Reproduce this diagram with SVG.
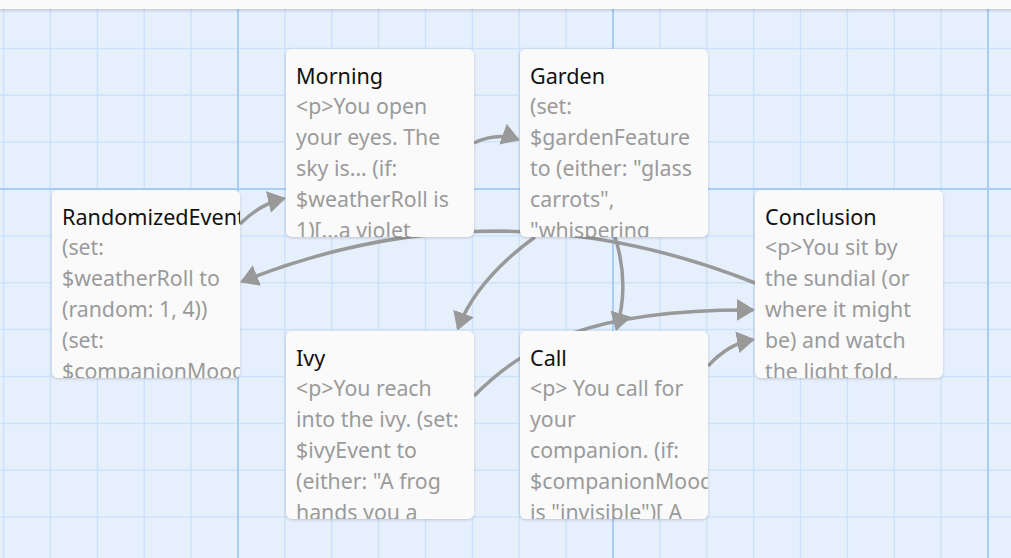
<svg xmlns="http://www.w3.org/2000/svg" width="1011" height="558" viewBox="0 0 1011 558">
  <defs>
    <style>
      .minor { stroke: #cde2fa; stroke-width: 1.5; fill: none; }
      .major { stroke: #a9cdf6; stroke-width: 2; fill: none; }
      .card { fill: #fafafa; filter: url(#shadow); }
      .title { font-family: "Noto Sans", "Open Sans", sans-serif; font-size: 21.6px; fill: #111; }
      .body { font-family: "Noto Sans", "Open Sans", sans-serif; font-size: 21.3px; fill: #9a9a9a; }
      .link { fill: none; stroke: #999; stroke-width: 3.5; marker-end: url(#arrow); }
    </style>
    <filter id="shadow" x="-10%" y="-10%" width="120%" height="120%">
      <feDropShadow dx="0" dy="1" stdDeviation="1.5" flood-color="#000" flood-opacity="0.18"/>
    </filter>
    <marker id="arrow" markerUnits="userSpaceOnUse" markerWidth="18" markerHeight="22" viewBox="0 0 18 22" refX="16" refY="11" orient="auto">
      <path d="M0,0 L18,11 L0,22 z" fill="#999"/>
    </marker>
    <clipPath id="cardClip">
      <rect x="0" y="0" width="188" height="188" rx="6"/>
    </clipPath>
    <linearGradient id="barShadow" x1="0" y1="0" x2="0" y2="1">
      <stop offset="0" stop-color="#000" stop-opacity="0.14"/>
      <stop offset="1" stop-color="#000" stop-opacity="0"/>
    </linearGradient>
  </defs>

  <rect id="background" x="0" y="0" width="1011" height="558" fill="#e6f0fc"/>

  <g id="grid">
    <path class="minor" d="M3.6,0V558 M50.5,0V558 M97.4,0V558 M144.25,0V558 M191.1,0V558 M284.9,0V558 M331.75,0V558 M378.6,0V558 M425.5,0V558 M472.4,0V558 M519.25,0V558 M566.1,0V558 M659.9,0V558 M706.75,0V558 M753.6,0V558 M800.5,0V558 M847.4,0V558 M894.25,0V558 M941.1,0V558 M0,48.4H1011 M0,95.25H1011 M0,142.1H1011 M0,235.9H1011 M0,282.75H1011 M0,329.6H1011 M0,376.5H1011 M0,423.4H1011 M0,470.25H1011 M0,517.1H1011"/>
    <path class="major" d="M238,0V558 M613,0V558 M988,0V558 M0,189H1011"/>
  </g>

  <g id="connectors">
    <path class="link" d="M240,224 Q260,204 284,198.5"/>
    <path class="link" d="M474,143 Q497,132 518,139.5"/>
    <path class="link" d="M755,283 Q497,180 242,281.5"/>
    <path class="link" d="M535,237 Q476,280 458,328.5"/>
    <path class="link" d="M615,237 Q630,284 616.5,329"/>
    <path class="link" d="M474,396 C525,345 590,309 753,310"/>
    <path class="link" d="M708,366 Q728,344 753,339.5"/>
  </g>

  <g id="node-morning" transform="translate(286,49)">
    <rect class="card" width="188" height="188" rx="6"/>
    <g clip-path="url(#cardClip)">
      <text class="title" x="10" y="34.5">Morning</text>
      <text class="body"><tspan x="10" y="65">&lt;p&gt;You open</tspan><tspan x="10" y="96">your eyes. The</tspan><tspan x="10" y="127">sky is... (if:</tspan><tspan x="10" y="158">$weatherRoll is</tspan><tspan x="10" y="189">1)[...a violet</tspan></text>
    </g>
  </g>

  <g id="node-garden" transform="translate(520,49)">
    <rect class="card" width="188" height="188" rx="6"/>
    <g clip-path="url(#cardClip)">
      <text class="title" x="10" y="34.5">Garden</text>
      <text class="body"><tspan x="10" y="65">(set:</tspan><tspan x="10" y="96">$gardenFeature</tspan><tspan x="10" y="127">to (either: "glass</tspan><tspan x="10" y="158">carrots",</tspan><tspan x="10" y="189">"whispering</tspan></text>
    </g>
  </g>

  <g id="node-randomizedevent" transform="translate(52,190)">
    <rect class="card" width="188" height="188" rx="6"/>
    <g clip-path="url(#cardClip)">
      <text class="title" x="10" y="34.5">RandomizedEvent</text>
      <text class="body"><tspan x="10" y="65">(set:</tspan><tspan x="10" y="96">$weatherRoll to</tspan><tspan x="10" y="127">(random: 1, 4))</tspan><tspan x="10" y="158">(set:</tspan><tspan x="10" y="189">$companionMood</tspan></text>
    </g>
  </g>

  <g id="node-conclusion" transform="translate(755,190)">
    <rect class="card" width="188" height="188" rx="6"/>
    <g clip-path="url(#cardClip)">
      <text class="title" x="10" y="34.5">Conclusion</text>
      <text class="body"><tspan x="10" y="65">&lt;p&gt;You sit by</tspan><tspan x="10" y="96">the sundial (or</tspan><tspan x="10" y="127">where it might</tspan><tspan x="10" y="158">be) and watch</tspan><tspan x="10" y="189">the light fold.</tspan></text>
    </g>
  </g>

  <g id="node-ivy" transform="translate(286,331)">
    <rect class="card" width="188" height="188" rx="6"/>
    <g clip-path="url(#cardClip)">
      <text class="title" x="10" y="34.5">Ivy</text>
      <text class="body"><tspan x="10" y="65">&lt;p&gt;You reach</tspan><tspan x="10" y="96">into the ivy. (set:</tspan><tspan x="10" y="127">$ivyEvent to</tspan><tspan x="10" y="158">(either: "A frog</tspan><tspan x="10" y="189">hands you a</tspan></text>
    </g>
  </g>

  <g id="node-call" transform="translate(520,331)">
    <rect class="card" width="188" height="188" rx="6"/>
    <g clip-path="url(#cardClip)">
      <text class="title" x="10" y="34.5">Call</text>
      <text class="body"><tspan x="10" y="65">&lt;p&gt; You call for</tspan><tspan x="10" y="96">your</tspan><tspan x="10" y="127">companion. (if:</tspan><tspan x="10" y="158">$companionMood</tspan><tspan x="10" y="189">is "invisible")[ A</tspan></text>
    </g>
  </g>

  <g id="topbar">
    <rect x="0" y="9" width="1011" height="4" fill="url(#barShadow)"/>
    <rect x="0" y="0" width="1011" height="9" fill="#fafafa"/>
  </g>
</svg>
